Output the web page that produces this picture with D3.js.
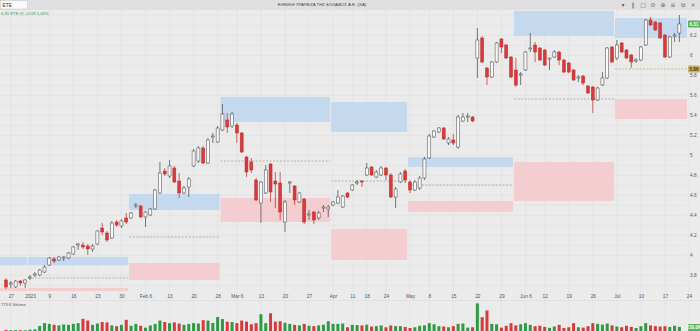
<!DOCTYPE html>
<html>
<head>
<meta charset="utf-8">
<script src="https://cdn.jsdelivr.net/npm/d3@7"></script>
<style>
  body { margin: 0; background: #ebebeb; }
  svg { display: block; font-family: "Liberation Sans", Arial, sans-serif; }
</style>
</head>
<body>
<div id="chart"></div>
<script>
// trading days shown on the x axis (last two have no candle yet)
var dates = [
  "2022-12-23","2022-12-27","2022-12-28","2022-12-29","2022-12-30",
  "2023-01-02","2023-01-03","2023-01-04","2023-01-05",
  "2023-01-09","2023-01-10","2023-01-11","2023-01-12","2023-01-13",
  "2023-01-16","2023-01-17","2023-01-18","2023-01-19","2023-01-20",
  "2023-01-23","2023-01-24","2023-01-25","2023-01-26","2023-01-27",
  "2023-01-30","2023-01-31","2023-02-01","2023-02-02","2023-02-03",
  "2023-02-06","2023-02-07","2023-02-08","2023-02-09","2023-02-10",
  "2023-02-13","2023-02-14","2023-02-15","2023-02-16","2023-02-17",
  "2023-02-20","2023-02-21","2023-02-22","2023-02-23","2023-02-24",
  "2023-02-28","2023-03-01","2023-03-02","2023-03-03",
  "2023-03-06","2023-03-07","2023-03-08","2023-03-09","2023-03-10",
  "2023-03-13","2023-03-14","2023-03-15","2023-03-16","2023-03-17",
  "2023-03-20","2023-03-21","2023-03-22","2023-03-23","2023-03-24",
  "2023-03-27","2023-03-28","2023-03-29","2023-03-30","2023-03-31",
  "2023-04-03","2023-04-04","2023-04-05","2023-04-06",
  "2023-04-11","2023-04-12","2023-04-13",
  "2023-04-18","2023-04-19","2023-04-20","2023-04-21",
  "2023-04-24","2023-04-25","2023-04-26","2023-04-27","2023-04-28",
  "2023-05-02","2023-05-03","2023-05-04","2023-05-05",
  "2023-05-08","2023-05-09","2023-05-10","2023-05-11","2023-05-12",
  "2023-05-15","2023-05-16","2023-05-17","2023-05-18","2023-05-19",
  "2023-05-22","2023-05-23","2023-05-24","2023-05-25","2023-05-26",
  "2023-05-29","2023-05-30","2023-05-31","2023-06-01","2023-06-02",
  "2023-06-06","2023-06-07","2023-06-08","2023-06-09",
  "2023-06-12","2023-06-13","2023-06-14","2023-06-15","2023-06-16",
  "2023-06-19","2023-06-20","2023-06-21","2023-06-22","2023-06-23",
  "2023-06-26","2023-06-27","2023-06-28","2023-06-29","2023-06-30",
  "2023-07-03","2023-07-04","2023-07-05","2023-07-06","2023-07-07",
  "2023-07-10","2023-07-11","2023-07-12","2023-07-13","2023-07-14",
  "2023-07-17","2023-07-18","2023-07-19","2023-07-20","2023-07-21",
  "2023-07-24"
];

var opens = [
  3.75,3.71,3.68,3.74,3.72,3.77,3.80,3.80,3.83,3.90,
  3.96,3.95,3.97,3.97,4.01,4.10,4.10,4.09,4.06,4.11,
  4.27,4.22,4.17,4.33,4.29,4.37,4.37,4.49,4.49,4.38,
  4.40,4.46,4.62,4.84,4.79,4.87,4.74,4.62,4.68,4.89,
  4.94,5.07,4.92,5.18,5.13,5.25,5.35,5.29,5.30,5.22,
  4.98,4.93,4.75,4.52,4.62,4.91,4.74,4.72,4.33,4.72,
  4.69,4.53,4.56,4.40,4.43,4.37,4.47,4.46,4.50,4.52,
  4.48,4.62,4.65,4.72,4.74,4.80,4.88,4.78,4.80,4.87,
  4.80,4.58,4.73,4.84,4.73,4.65,4.67,4.77,4.97,5.18,
  5.23,5.27,5.12,5.15,5.08,5.34,5.38,5.38,5.97,6.17,
  5.87,5.78,5.93,6.16,6.10,5.98,5.85,5.80,5.85,6.06,
  6.10,6.07,6.05,5.96,5.98,6.03,5.95,5.92,5.85,5.77,
  5.79,5.69,5.68,5.55,5.70,5.77,6.08,5.97,6.12,6.05,
  6.00,5.94,5.95,6.10,6.35,6.33,6.32,6.20,5.98,6.19,6.22
];
var highs = [
  3.77,3.74,3.75,3.75,3.76,3.80,3.83,3.86,3.90,3.98,
  3.98,3.99,3.99,4.03,4.09,4.12,4.13,4.11,4.11,4.25,
  4.32,4.24,4.34,4.35,4.36,4.42,4.43,4.52,4.50,4.44,
  4.47,4.66,4.93,4.87,4.95,4.89,4.82,4.69,4.78,5.06,
  5.09,5.09,5.17,5.22,5.29,5.51,5.42,5.43,5.32,5.23,
  4.99,4.97,4.77,4.74,4.90,4.92,4.83,4.83,4.55,4.74,
  4.70,4.63,4.57,4.45,4.44,4.44,4.50,4.50,4.54,4.65,
  4.60,4.63,4.71,4.75,4.75,4.92,4.89,4.85,4.89,4.88,
  4.82,4.68,4.83,4.86,4.75,4.75,4.79,4.98,5.21,5.25,
  5.28,5.28,5.18,5.21,5.40,5.42,5.42,5.39,6.27,6.19,
  5.88,5.94,6.13,6.17,6.11,5.99,5.97,5.83,6.04,6.22,
  6.13,6.08,6.06,5.97,6.05,6.04,5.96,5.93,5.86,5.80,
  5.80,5.70,5.69,5.68,5.83,6.08,6.09,6.15,6.13,6.06,
  6.01,5.97,6.09,6.36,6.38,6.34,6.33,6.21,6.19,6.22,6.40
];
var lows = [
  3.66,3.67,3.67,3.69,3.67,3.75,3.78,3.79,3.82,3.89,
  3.92,3.94,3.94,3.96,4.00,4.05,4.06,4.00,4.03,4.10,
  4.20,4.13,4.16,4.28,4.27,4.31,4.36,4.47,4.37,4.28,
  4.39,4.45,4.61,4.79,4.77,4.72,4.57,4.61,4.58,4.88,
  4.92,4.91,4.91,5.12,5.12,5.24,5.22,5.27,5.12,5.02,
  4.78,4.82,4.54,4.32,4.61,4.53,4.47,4.35,4.23,4.62,
  4.50,4.52,4.31,4.35,4.31,4.35,4.43,4.38,4.49,4.51,
  4.47,4.57,4.64,4.70,4.68,4.79,4.79,4.77,4.79,4.75,
  4.57,4.47,4.72,4.72,4.62,4.64,4.65,4.75,4.96,5.17,
  5.22,5.15,5.10,5.10,5.06,5.33,5.33,5.33,5.77,5.92,
  5.70,5.77,5.92,6.02,5.96,5.77,5.68,5.70,5.84,6.03,
  5.93,5.94,5.89,5.85,5.97,5.90,5.82,5.82,5.74,5.73,
  5.70,5.61,5.42,5.54,5.69,5.76,5.92,5.95,6.02,5.96,
  5.87,5.92,5.94,6.09,6.29,6.24,6.16,5.97,5.97,6.13,6.13
];
var closes = [
  3.68,3.72,3.74,3.72,3.75,3.78,3.81,3.85,3.88,3.97,
  3.94,3.98,3.98,4.02,4.08,4.11,4.08,4.06,4.09,4.24,
  4.23,4.15,4.32,4.30,4.34,4.33,4.42,4.50,4.38,4.43,
  4.46,4.65,4.82,4.81,4.89,4.73,4.62,4.67,4.76,5.04,
  5.07,4.92,5.15,5.19,5.27,5.41,5.28,5.41,5.22,5.03,
  4.83,4.85,4.55,4.73,4.85,4.63,4.71,4.43,4.53,4.73,
  4.55,4.62,4.33,4.41,4.35,4.42,4.48,4.48,4.53,4.58,
  4.59,4.58,4.70,4.73,4.73,4.87,4.80,4.83,4.87,4.80,
  4.58,4.66,4.81,4.75,4.65,4.73,4.77,4.96,5.19,5.24,
  5.27,5.16,5.16,5.12,5.38,5.38,5.39,5.34,6.15,5.93,
  5.78,5.93,6.12,6.08,5.97,5.78,5.70,5.81,6.03,6.07,
  6.03,5.95,5.90,5.97,6.03,5.95,5.83,5.83,5.75,5.78,
  5.72,5.62,5.55,5.67,5.77,6.07,5.93,6.10,6.03,5.97,
  5.93,5.95,6.08,6.35,6.30,6.25,6.17,5.98,6.18,6.20,6.31
];
// volume in thousands
var volumes = [
  60,40,50,45,40,70,90,270,420,380,
  330,300,350,330,380,420,650,560,330,400,
  480,460,300,260,330,600,280,380,280,180,
  300,380,560,480,420,460,400,330,380,420,
  400,580,560,430,750,640,500,480,420,560,
  500,360,420,900,420,950,500,520,440,380,
  330,300,380,280,260,300,340,520,380,380,
  400,200,330,320,300,340,240,260,300,200,
  300,260,260,220,160,200,280,300,420,360,
  260,240,200,260,380,400,180,200,1480,740,
  1100,380,360,180,280,420,300,360,420,330,
  260,280,220,170,240,330,160,200,420,200,
  180,260,420,380,340,400,300,240,200,280,
  220,160,260,420,300,260,240,260,220,280,220
];

// x axis tick labels
var tickDates = ["2022-12-27","2023-01-02","2023-01-09","2023-01-16","2023-01-23","2023-01-30",
  "2023-02-06","2023-02-13","2023-02-20","2023-02-28","2023-03-06","2023-03-13","2023-03-20",
  "2023-03-27","2023-04-03","2023-04-11","2023-04-18","2023-04-24","2023-05-02","2023-05-08",
  "2023-05-15","2023-05-22","2023-05-29","2023-06-06","2023-06-12","2023-06-19","2023-06-26",
  "2023-07-03","2023-07-10","2023-07-17","2023-07-24"];
var tickLabels = ["27","2023","9","16","23","30","Feb 6","13","20","28","Mar 6","13","20",
  "27","Apr","11","18","24","May","8","15","22","29","Jun 6","12","19","26",
  "Jul","10","17","24"];
var priceTicks = [3.8,4,4.2,4.4,4.6,4.8,5,5.2,5.4,5.6,5.8,6,6.2];

// monthly zones: resistance (blue), pivot (dashed), support (pink)
var zoneFirst = ["2022-12-23","2023-01-02","2023-02-01","2023-03-01","2023-04-03","2023-05-02","2023-06-01","2023-07-03"];
var zoneLast  = ["2022-12-30","2023-01-31","2023-02-28","2023-03-31","2023-04-28","2023-05-31","2023-06-30","2023-07-24"];
var resHigh = [3.98,3.98,4.61,5.58,5.53,4.98,6.44,6.37];
var resLow  = [3.90,3.90,4.45,5.33,5.23,4.88,6.19,6.17];
var pivots  = [null,3.77,4.18,4.94,4.74,4.70,5.56,5.86];
var supHigh = [3.67,3.67,3.92,4.57,4.26,4.54,4.93,5.56];
var supLow  = [3.55,3.55,3.75,4.33,3.95,4.43,4.54,5.36];

var title = "ΕΘΝΙΚΗ ΤΡΑΠΕΖΑ ΤΗΣ ΕΛΛΑΔΟΣ Α.Ε. (ΧΑ)";

var W = 700, H = 331;
var pane = {left: 0, right: 687, top: 9, bottom: 291};

var x = d3.scalePoint().domain(dates).range([6, 689]);
var step = x.step();
var y = d3.scaleLinear().domain([3.8, 6.2]).range([275, 35]);
var yv = d3.scaleLinear().domain([0, 1500]).range([331, 303]);

var candles = opens.map(function(o, i) {
  return {date: dates[i], o: o, h: highs[i], l: lows[i], c: closes[i], v: volumes[i]};
});

var red = "#d63a3a", green = "#2e9a43";

var svg = d3.select("#chart").append("svg")
  .attr("width", W).attr("height", H);

svg.append("rect").attr("width", W).attr("height", H).attr("fill", "#ebebeb");

// header
svg.append("rect").attr("width", W).attr("height", 9).attr("fill", "#e0e0e0");
svg.append("line").attr("x1", 0).attr("x2", W).attr("y1", 9.25).attr("y2", 9.25)
  .attr("stroke", "#d0d0d0").attr("stroke-width", 0.5);
svg.append("rect").attr("x", 0.5).attr("y", 0.5).attr("width", 27).attr("height", 8.5)
  .attr("fill", "#fafafa").attr("stroke", "#c4c4c4").attr("stroke-width", 0.5);
svg.append("text").attr("x", 2.5).attr("y", 6.6).attr("font-size", 4.8).attr("fill", "#333").text("ETE");
svg.append("text").attr("x", 322).attr("y", 6.4).attr("text-anchor", "middle")
  .attr("font-size", 4.4).attr("fill", "#444").text(title);
svg.append("text").attr("x", 1).attr("y", 14.6).attr("font-size", 4.2)
  .attr("fill", "#3f8f3f").text("6,31 ETE @ +0,09 1,43%");

var icons = ["▾", "‖", "▢", "⊜", "⊕", "≡", "⧉", "×"];
svg.append("g").selectAll("text").data(icons).enter().append("text")
  .attr("x", function(d, i) { return 623 + i * 10; })
  .attr("y", 7.2)
  .attr("text-anchor", "middle")
  .attr("font-family", "DejaVu Sans")
  .attr("font-size", 6)
  .attr("fill", "#666")
  .text(function(d) { return d; });

// clip for the price pane
svg.append("clipPath").attr("id", "pane-clip").append("rect")
  .attr("x", pane.left).attr("y", pane.top)
  .attr("width", pane.right - pane.left).attr("height", pane.bottom - pane.top);

// grid
var grid = svg.append("g").attr("stroke", "#dcdcdc").attr("stroke-width", 0.5);
var gridPrices = d3.range(37, 65).map(function(k) { return k / 10; });
grid.selectAll(".h").data(gridPrices).enter().append("line")
  .attr("x1", pane.left).attr("x2", pane.right)
  .attr("y1", function(d) { return Math.round(y(d)) + 0.25; })
  .attr("y2", function(d) { return Math.round(y(d)) + 0.25; })
  .attr("clip-path", "url(#pane-clip)");
grid.selectAll(".v").data(tickDates).enter().append("line")
  .attr("x1", function(d) { return x(d); }).attr("x2", function(d) { return x(d); })
  .attr("y1", pane.top).attr("y2", H);

// zones
function zoneX0(k) { return k === 0 ? pane.left : x(zoneFirst[k]) - step / 2 + 0.5; }
function zoneX1(k) { return Math.min(x(zoneLast[k]) + step / 2 - 0.5, pane.right); }

var zones = svg.append("g").attr("clip-path", "url(#pane-clip)");
zoneFirst.forEach(function(d, k) {
  zones.append("rect")
    .attr("x", zoneX0(k)).attr("width", zoneX1(k) - zoneX0(k))
    .attr("y", y(resHigh[k])).attr("height", y(resLow[k]) - y(resHigh[k]))
    .attr("fill", "#c4d8ee");
  zones.append("rect")
    .attr("x", zoneX0(k)).attr("width", zoneX1(k) - zoneX0(k))
    .attr("y", y(supHigh[k])).attr("height", y(supLow[k]) - y(supHigh[k]))
    .attr("fill", "#f4cdd1");
  if (pivots[k] !== null) {
    var last = k === zoneFirst.length - 1;
    zones.append("line")
      .attr("x1", zoneX0(k)).attr("x2", zoneX1(k))
      .attr("y1", y(pivots[k])).attr("y2", y(pivots[k]))
      .attr("stroke", last ? "#c2a24a" : "#a3957a")
      .attr("stroke-width", 0.7)
      .attr("stroke-dasharray", "2,1.5");
  }
});

// candles
var cg = svg.append("g").attr("clip-path", "url(#pane-clip)");
var bw = 3;
cg.selectAll(".wick").data(candles).enter().append("line")
  .attr("x1", function(d) { return x(d.date); })
  .attr("x2", function(d) { return x(d.date); })
  .attr("y1", function(d) { return y(d.h); })
  .attr("y2", function(d) { return y(d.l); })
  .attr("stroke", function(d) { return d.c >= d.o ? "#444" : "#b52a2a"; })
  .attr("stroke-width", 0.7);
cg.selectAll(".body").data(candles).enter().append("rect")
  .attr("x", function(d) { return x(d.date) - bw / 2; })
  .attr("width", bw)
  .attr("y", function(d) { return y(Math.max(d.o, d.c)); })
  .attr("height", function(d) { return Math.max(0.8, Math.abs(y(d.o) - y(d.c))); })
  .attr("fill", function(d) { return d.c >= d.o ? "#f7f7f7" : red; })
  .attr("stroke", function(d) { return d.c >= d.o ? "#444" : "#c22e2e"; })
  .attr("stroke-width", 0.5);

// price axis on the right
var yAxis = svg.append("g")
  .attr("transform", "translate(" + pane.right + ",0)")
  .call(d3.axisRight(y).tickValues(priceTicks).tickSize(0).tickPadding(3)
    .tickFormat(d3.format(".1~f")));
yAxis.select(".domain").remove();
yAxis.selectAll("text").attr("font-size", 4.8).attr("fill", "#555")
  .attr("font-family", "Liberation Sans, Arial, sans-serif");

// time axis
var xAxis = svg.append("g")
  .attr("transform", "translate(0," + pane.bottom + ")")
  .call(d3.axisBottom(x).tickValues(tickDates).tickSize(0).tickPadding(3.5)
    .tickFormat(function(d) { return tickLabels[tickDates.indexOf(d)]; }));
xAxis.select(".domain").remove();
xAxis.selectAll("text").attr("font-size", 4.8).attr("fill", "#555")
  .attr("font-family", "Liberation Sans, Arial, sans-serif");

// volume pane
svg.append("line").attr("x1", 0).attr("x2", W).attr("y1", 300.5).attr("y2", 300.5)
  .attr("stroke", "#d6d6d6").attr("stroke-width", 0.5);
svg.append("text").attr("x", 1).attr("y", 305.5).attr("font-size", 4).attr("fill", "#555")
  .text("773 K Volume");
svg.selectAll(".vol").data(candles).enter().append("rect")
  .attr("x", function(d) { return x(d.date) - bw / 2; })
  .attr("width", bw)
  .attr("y", function(d) { return yv(d.v); })
  .attr("height", function(d) { return yv(0) - yv(d.v); })
  .attr("fill", function(d) { return d.c >= d.o ? green : red; });

// badges on the price axis
function badge(yy, fill, color, txt) {
  svg.append("rect").attr("x", pane.right + 1).attr("y", yy - 3.5)
    .attr("width", 12).attr("height", 7).attr("rx", 1).attr("fill", fill);
  svg.append("text").attr("x", pane.right + 7).attr("y", yy + 1.7)
    .attr("text-anchor", "middle").attr("font-size", 4.6).attr("font-weight", "bold")
    .attr("fill", color).text(txt);
}
var lastC = candles[candles.length - 1];
badge(y(lastC.c), "#57b05a", "#fff", lastC.c.toFixed(2));
badge(y(pivots[pivots.length - 1]), "#c9b06c", "#3a3320", pivots[pivots.length - 1].toFixed(2));
badge(327.5, "#57b05a", "#fff", lastC.v.toFixed(1) + "K");
</script>
</body>
</html>
